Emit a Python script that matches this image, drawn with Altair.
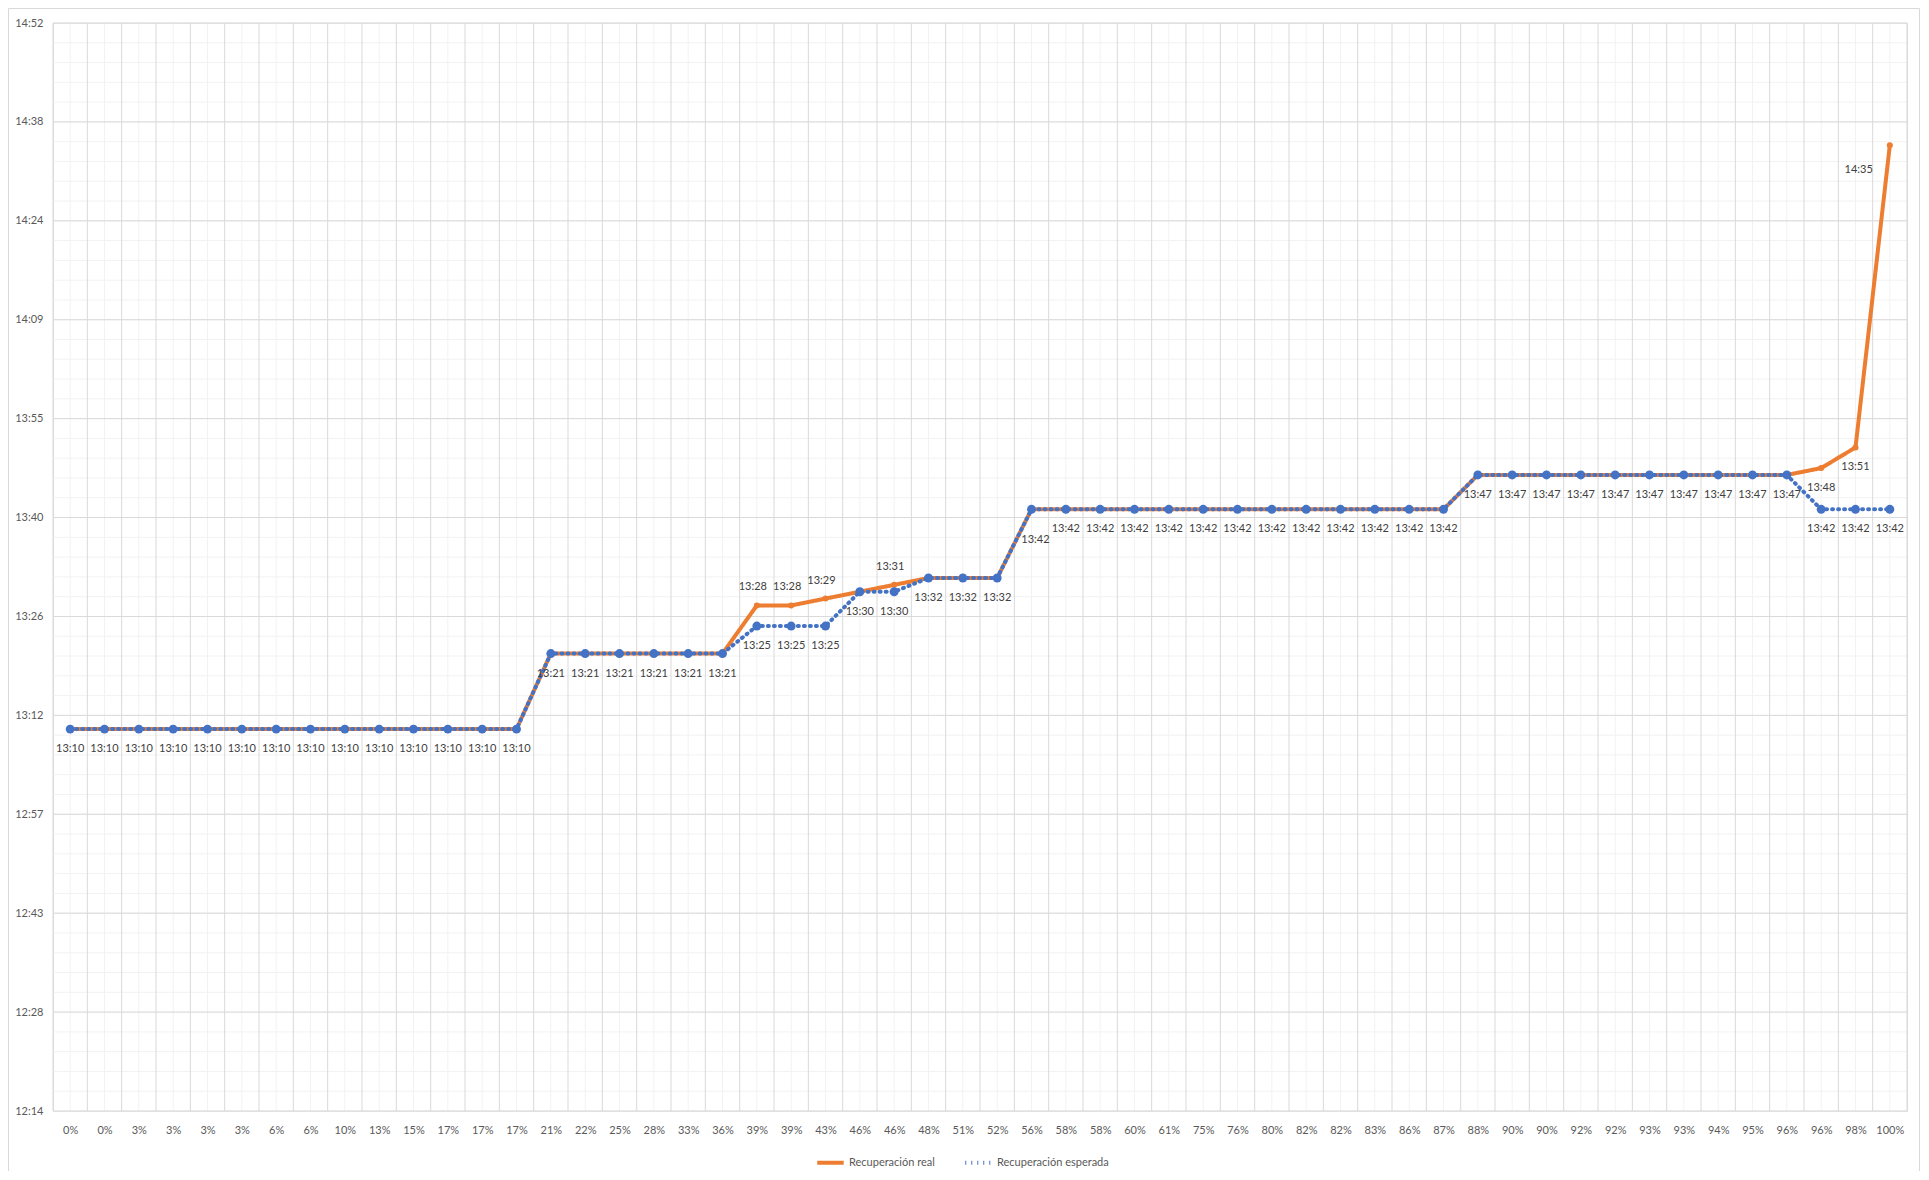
import json
import altair as alt
import pandas as pd

# ---------------- data ----------------
x_labels = ["0%", "0%", "3%", "3%", "3%", "3%", "6%", "6%", "10%", "13%", "15%", "17%", "17%", "17%",
            "21%", "22%", "25%", "28%", "33%", "36%", "39%", "39%", "43%", "46%", "46%", "48%", "51%",
            "52%", "56%", "58%", "58%", "60%", "61%", "75%", "76%", "80%", "82%", "82%", "83%", "86%",
            "87%", "88%", "90%", "90%", "92%", "92%", "93%", "93%", "94%", "95%", "96%", "96%", "98%", "100%"]

real_times = (["13:10"] * 14 + ["13:21"] * 6 +
              ["13:28", "13:28", "13:29", "13:30", "13:31", "13:32", "13:32", "13:32"] +
              ["13:42"] * 13 + ["13:47"] * 10 + ["13:48", "13:51", "14:35"])

expected_times = (["13:10"] * 14 + ["13:21"] * 6 +
                  ["13:25", "13:25", "13:25", "13:30", "13:30", "13:32", "13:32", "13:32"] +
                  ["13:42"] * 13 + ["13:47"] * 10 + ["13:42", "13:42", "13:42"])

series_names = ["Recuperación real", "Recuperación esperada"]
series_colors = ["#ED7D31", "#4472C4"]

# y axis in Excel day fractions (0.01 day = 14.4 min)
y_ticks_day = [0.51, 0.52, 0.53, 0.54, 0.55, 0.56, 0.57, 0.58, 0.59, 0.60, 0.61, 0.62]
y_minor_step_day = 0.002

# ---------------- derived tables ----------------
def to_min(s):
    h, m = s.split(":")
    return int(h) * 60 + int(m)

rows = []
for i, t in enumerate(real_times):
    rows.append({"x": i, "y": to_min(t), "serie": series_names[0], "label": t})
for i, t in enumerate(expected_times):
    rows.append({"x": i, "y": to_min(t), "serie": series_names[1], "label": t})
df = pd.DataFrame(rows)

n = len(x_labels)
y_major = [round(d * 1440, 4) for d in y_ticks_day]
n_minor = int(round((y_ticks_day[-1] - y_ticks_day[0]) / y_minor_step_day))
y_minor = [round((y_ticks_day[0] + k * y_minor_step_day) * 1440, 4) for k in range(n_minor + 1)]

vmin_df = pd.DataFrame({"x": list(range(n))})
vmaj_df = pd.DataFrame({"x": [i - 0.5 for i in range(n + 1)]})
hmin_df = pd.DataFrame({"y": y_minor})
hmaj_df = pd.DataFrame({"y": y_major})

FONT = "Lato"
XS = alt.Scale(domain=[-0.5, n - 0.5], nice=False, zero=False)
YS = alt.Scale(domain=[y_major[0], y_major[-1]], nice=False, zero=False)
XA = alt.Axis(values=list(range(n)), labelExpr=f"{json.dumps(x_labels)}[datum.value]",
              grid=False, domain=False, ticks=False, labelPadding=13, labelFontSize=11,
              labelColor="#595959", labelFont=FONT, title=None, labelAngle=0,
              labelOverlap=False, labelFlush=False)
YA = alt.Axis(values=y_major,
              labelExpr="timeFormat(datetime(2000,0,1,0,0,0,round(datum.value*60000)),'%H:%M')",
              grid=False, domain=False, ticks=False, labelPadding=10, labelFontSize=11,
              labelColor="#595959", labelFont=FONT, title=None, labelOverlap=False,
              labelFlush=False)

X = alt.X("x:Q", scale=XS, axis=XA)
Y = alt.Y("y:Q", scale=YS, axis=YA)

vgrid_minor = alt.Chart(vmin_df).mark_rule(color="#f2f2f2", strokeWidth=1).encode(x=X)
hgrid_minor = alt.Chart(hmin_df).mark_rule(color="#f2f2f2", strokeWidth=1).encode(y=Y)
vgrid_major = alt.Chart(vmaj_df).mark_rule(color="#d9d9d9", strokeWidth=1).encode(x=X)
hgrid_major = alt.Chart(hmaj_df).mark_rule(color="#d9d9d9", strokeWidth=1).encode(y=Y)

legend = alt.Legend(title=None, orient="none", legendX=762, legendY=1124, direction="horizontal",
                    symbolType="stroke", symbolStrokeWidth=4, symbolSize=700,
                    labelFontSize=11, labelColor="#595959", labelFont=FONT,
                    columnPadding=22, labelOffset=3, symbolOpacity=1)
COLOR = alt.Color("serie:N", scale=alt.Scale(domain=series_names, range=series_colors), legend=legend)
DASH = alt.StrokeDash("serie:N", scale=alt.Scale(domain=series_names, range=[[1, 0], [1, 5]]),
                      legend=legend)

base = alt.Chart(df)
real = base.transform_filter(alt.datum.serie == series_names[0])
exp_ = base.transform_filter(alt.datum.serie == series_names[1])

real_line = real.mark_line(strokeWidth=4, strokeCap="round", strokeJoin="round").encode(
    x=X, y=Y, color=COLOR, strokeDash=DASH, order="x:Q")
real_pts = real.mark_point(filled=True, shape="circle", size=36, opacity=1,
                           color=series_colors[0]).encode(x=X, y=Y)
exp_line = exp_.mark_line(strokeWidth=4, strokeCap="round", strokeJoin="round").encode(
    x=X, y=Y, color=COLOR, strokeDash=DASH, order="x:Q")
exp_pts = exp_.mark_point(filled=True, shape="circle", size=80, opacity=1,
                          color=series_colors[1]).encode(x=X, y=Y)

TXT = dict(fontSize=11, font=FONT, color="#404040")
exp_lbl = exp_.transform_filter("datum.x != 28").mark_text(dy=20, **TXT).encode(
    x=X, y=Y, text="label:N")
exp_lbl2 = exp_.transform_filter("datum.x == 28").mark_text(dy=31, dx=4, **TXT).encode(
    x=X, y=Y, text="label:N")
real_up = real.transform_filter("indexof([20,21,22,24], datum.x) >= 0").mark_text(
    dy=-18, dx=-4, **TXT).encode(x=X, y=Y, text="label:N")
real_dn = real.transform_filter("datum.x == 51 || datum.x == 52").mark_text(dy=20, **TXT).encode(
    x=X, y=Y, text="label:N")
real_last = real.transform_filter("datum.x == 53").mark_text(dy=25, dx=-17, align="right", **TXT).encode(
    x=X, y=Y, text="label:N")

border = alt.Chart(pd.DataFrame({"a": [0]})).mark_rect(fill=None, stroke="#d9d9d9", strokeWidth=1).encode(
    x=alt.value(-44.5), x2=alt.value(1866.5), y=alt.value(-14.5), y2=alt.value(1200))

chart = alt.layer(
    border, vgrid_minor, hgrid_minor, vgrid_major, hgrid_major,
    real_line, exp_line, real_pts, exp_pts,
    exp_lbl, exp_lbl2, real_up, real_dn, real_last,
).properties(
    width=1854, height=1088,
    padding={"left": 45, "top": 15, "right": 13, "bottom": 60},
    autosize=alt.AutoSizeParams(type="none"),
).configure_view(stroke="#d9d9d9").configure(background="white")

chart.save("out.html", embed_options={"renderer": "svg", "actions": False})
